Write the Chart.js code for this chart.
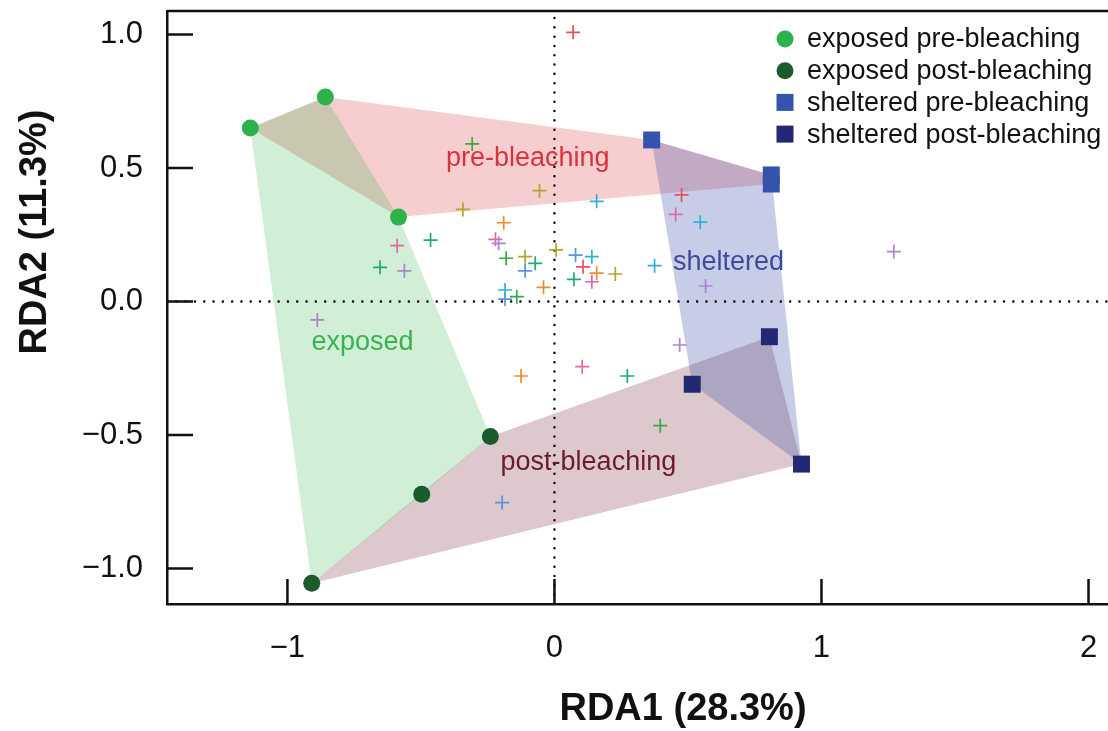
<!DOCTYPE html>
<html>
<head>
<meta charset="utf-8">
<title>RDA ordination</title>
<script src="https://cdn.jsdelivr.net/npm/chart.js@4.4.1/dist/chart.umd.min.js"></script>
<style>
    html, body { margin: 0; padding: 0; background: #fff; overflow: hidden; }
    #rdaChart { display: block; }
</style>
</head>
<body>
<canvas id="rdaChart" width="1108" height="731"></canvas>
<script>
// axis limits and tick labels
const xRange = [-1.451, 2.073];
const yRange = [-1.133, 1.088];
const xTickValues = [-1, 0, 1, 2];
const yTickValues = [-1, -0.5, 0, 0.5, 1];
const xTitle = 'RDA1 (28.3%)';
const yTitle = 'RDA2 (11.3%)';

// site scores per group
const groupNames = ['exposed pre-bleaching', 'exposed post-bleaching', 'sheltered pre-bleaching', 'sheltered post-bleaching'];
const exposedPre = [[-1.139, 0.650], [-0.858, 0.766], [-0.584, 0.316]];
const exposedPost = [[-0.240, -0.506], [-0.497, -0.722], [-0.909, -1.055]];
const shelteredPre = [[0.364, 0.605], [0.812, 0.474], [0.812, 0.440]];
const shelteredPost = [[0.805, -0.132], [0.516, -0.310], [0.925, -0.609]];

// hull labels, anchored in data units
const hullNames = ['pre-bleaching', 'post-bleaching', 'exposed', 'sheltered'];
const hullLabelAt = [[-0.100, 0.537], [0.127, -0.604], [-0.719, -0.155], [0.652, 0.144]];

// species scores, grouped by plotting colour
const sppRed = [[0.070, 1.008], [0.476, 0.399], [0.107, 0.130]];
const sppOrange = [[-0.190, 0.295], [-0.041, 0.053], [0.158, 0.106], [-0.125, -0.279]];
const sppOlive = [[-0.056, 0.415], [-0.343, 0.345], [-0.110, 0.168], [0.006, 0.193], [0.228, 0.103]];
const sppGreen = [[-0.308, 0.590], [-0.181, 0.162], [-0.141, 0.018], [0.396, -0.465]];
const sppTeal = [[-0.464, 0.230], [-0.653, 0.128], [-0.072, 0.143], [0.073, 0.083], [0.273, -0.279]];
const sppCyan = [[-0.185, 0.043], [0.158, 0.375], [0.546, 0.297], [0.140, 0.168], [0.375, 0.134]];
const sppBlue = [[-0.110, 0.115], [-0.185, 0.009], [0.079, 0.174], [-0.196, -0.753]];
const sppPurple = [[-0.209, 0.218], [-0.562, 0.115], [-0.888, -0.069], [0.566, 0.058], [1.271, 0.187], [0.469, -0.163]];
const sppPink = [[-0.221, 0.233], [-0.589, 0.209], [0.454, 0.326], [0.140, 0.074], [0.104, -0.244]];

const FONT = "'Liberation Sans', Arial, Helvetica, sans-serif";
const groupColors = ['#2cb24a', '#1b5a2a', '#3552ad', '#232873'];
const hullLabelColors = ['#d8333b', '#6c1a2d', '#3bb24f', '#3d4b9e'];

const toXY = (arr) => arr.map(([x, y]) => ({ x, y }));
const fmtMinus = (s) => String(s).replace('-', '\u2212');

// monotone chain convex hull, returns closed ring
function convexHull(points) {
    const pts = points.slice().sort((a, b) => a[0] - b[0] || a[1] - b[1]);
    const cross = (o, a, b) => (a[0] - o[0]) * (b[1] - o[1]) - (a[1] - o[1]) * (b[0] - o[0]);
    const lower = [];
    for (const p of pts) {
        while (lower.length >= 2 && cross(lower[lower.length - 2], lower[lower.length - 1], p) <= 0) lower.pop();
        lower.push(p);
    }
    const upper = [];
    for (let i = pts.length - 1; i >= 0; i--) {
        const p = pts[i];
        while (upper.length >= 2 && cross(upper[upper.length - 2], upper[upper.length - 1], p) <= 0) upper.pop();
        upper.push(p);
    }
    lower.pop();
    upper.pop();
    const ring = lower.concat(upper);
    ring.push(ring[0]);
    return ring;
}

function hullDataset(label, pts, color, order) {
    return {
        type: 'line',
        label,
        data: toXY(convexHull(pts)),
        fill: 'shape',
        backgroundColor: color,
        borderColor: 'transparent',
        borderWidth: 0,
        pointRadius: 0,
        tension: 0,
        order
    };
}

function speciesDataset(label, pts, color) {
    return {
        label,
        data: toXY(pts),
        pointStyle: 'cross',
        pointRadius: 7,
        pointBorderWidth: 1.7,
        pointBorderColor: color,
        pointBackgroundColor: color,
        order: 1
    };
}

function groupDataset(i, pts, style, radius) {
    return {
        label: groupNames[i],
        data: toXY(pts),
        pointStyle: style,
        pointRadius: radius,
        pointBorderWidth: 0,
        pointBackgroundColor: groupColors[i],
        pointBorderColor: groupColors[i],
        order: 0
    };
}

function dottedDataset(pts) {
    return {
        type: 'line',
        data: toXY(pts),
        borderColor: '#000',
        borderWidth: 2.4,
        borderDash: [0.1, 9.2],
        borderCapStyle: 'round',
        pointRadius: 0,
        fill: false,
        order: 2
    };
}

const datasets = [
    groupDataset(0, exposedPre, 'circle', 8.5),
    groupDataset(1, exposedPost, 'circle', 8.5),
    groupDataset(2, shelteredPre, 'rect', 12),
    groupDataset(3, shelteredPost, 'rect', 12),
    speciesDataset('red', sppRed, '#e5525b'),
    speciesDataset('orange', sppOrange, '#ee8a2c'),
    speciesDataset('olive', sppOlive, '#b3a42f'),
    speciesDataset('green', sppGreen, '#3aa845'),
    speciesDataset('teal', sppTeal, '#1fa87f'),
    speciesDataset('cyan', sppCyan, '#2cb2da'),
    speciesDataset('blue', sppBlue, '#5c92e2'),
    speciesDataset('purple', sppPurple, '#a986cc'),
    speciesDataset('pink', sppPink, '#e0689f'),
    dottedDataset([[xRange[0], 0], [xRange[1], 0]]),
    dottedDataset([[0, yRange[0]], [0, yRange[1]]]),
    hullDataset(hullNames[3], shelteredPre.concat(shelteredPost), 'rgba(59, 76, 168, 0.28)', 3),
    hullDataset(hullNames[2], exposedPre.concat(exposedPost), 'rgba(45, 179, 74, 0.22)', 4),
    hullDataset(hullNames[1], exposedPost.concat(shelteredPost), 'rgba(110, 25, 45, 0.24)', 5),
    hullDataset(hullNames[0], exposedPre.concat(shelteredPre), 'rgba(225, 60, 65, 0.25)', 6)
];

const rdaDecor = {
    id: 'rdaDecor',
    afterDatasetsDraw(chart) {
        const { ctx, scales: { x, y } } = chart;
        ctx.save();
        ctx.font = `27px ${FONT}`;
        ctx.textAlign = 'center';
        ctx.textBaseline = 'middle';
        hullNames.forEach((name, i) => {
            ctx.fillStyle = hullLabelColors[i];
            ctx.fillText(name, x.getPixelForValue(hullLabelAt[i][0]), y.getPixelForValue(hullLabelAt[i][1]));
        });
        ctx.restore();
    },
    afterDraw(chart) {
        const { ctx, chartArea: area, scales: { x, y } } = chart;
        ctx.save();

        // top frame line and inward tick marks
        ctx.strokeStyle = '#111';
        ctx.lineWidth = 2.5;
        ctx.beginPath();
        ctx.moveTo(area.left, area.top);
        ctx.lineTo(area.right, area.top);
        x.ticks.forEach((t) => {
            const px = x.getPixelForValue(t.value);
            ctx.moveTo(px, area.bottom);
            ctx.lineTo(px, area.bottom - 25);
        });
        y.ticks.forEach((t) => {
            const py = y.getPixelForValue(t.value);
            ctx.moveTo(area.left, py);
            ctx.lineTo(area.left + 26, py);
        });
        ctx.stroke();

        // axis titles
        ctx.fillStyle = '#111';
        ctx.font = `bold 38px ${FONT}`;
        ctx.textAlign = 'center';
        ctx.textBaseline = 'alphabetic';
        ctx.fillText(xTitle, 683, area.bottom + 116);
        ctx.save();
        ctx.translate(area.left - 121, area.top + 221);
        ctx.rotate(-Math.PI / 2);
        ctx.fillText(yTitle, 0, 0);
        ctx.restore();

        // legend, top right inside the frame
        ctx.font = `27px ${FONT}`;
        ctx.textAlign = 'left';
        ctx.textBaseline = 'middle';
        groupNames.forEach((name, i) => {
            const cy = area.top + 28 + i * 31.7;
            const cx = 785;
            ctx.fillStyle = groupColors[i];
            if (i < 2) {
                ctx.beginPath();
                ctx.arc(cx, cy, 8.5, 0, Math.PI * 2);
                ctx.fill();
            } else {
                ctx.fillRect(cx - 8.5, cy - 8.5, 17, 17);
            }
            ctx.fillStyle = '#111';
            ctx.fillText(name, 807, cy + 1);
        });

        ctx.restore();
    }
};

const tickFont = { family: FONT, size: 31 };

new Chart(document.getElementById('rdaChart'), {
    type: 'scatter',
    data: { datasets },
    options: {
        responsive: false,
        animation: false,
        events: [],
        layout: { autoPadding: false, padding: { top: 11, right: 0, bottom: 0, left: 0 } },
        plugins: {
            legend: { display: false },
            tooltip: { enabled: false }
        },
        scales: {
            x: {
                type: 'linear',
                min: xRange[0],
                max: xRange[1],
                afterBuildTicks: (scale) => { scale.ticks = xTickValues.map((v) => ({ value: v })); },
                afterFit: (scale) => {
                    scale.height = 127;
                    scale.paddingLeft = 0;
                    scale.paddingRight = 0;
                },
                grid: { display: true, drawOnChartArea: false, drawTicks: false },
                border: { display: true, color: '#111', width: 2.5 },
                ticks: {
                    padding: 26,
                    color: '#111',
                    maxRotation: 0,
                    autoSkip: false,
                    font: tickFont,
                    callback: (v) => fmtMinus(v)
                }
            },
            y: {
                type: 'linear',
                min: yRange[0],
                max: yRange[1],
                afterBuildTicks: (scale) => { scale.ticks = yTickValues.map((v) => ({ value: v })); },
                afterFit: (scale) => {
                    scale.width = 167;
                    scale.paddingTop = 0;
                    scale.paddingBottom = 0;
                },
                grid: { display: true, drawOnChartArea: false, drawTicks: false },
                border: { display: true, color: '#111', width: 2.5 },
                ticks: {
                    padding: 24,
                    color: '#111',
                    autoSkip: false,
                    font: tickFont,
                    callback: (v) => fmtMinus(Number(v).toFixed(1))
                }
            }
        }
    },
    plugins: [rdaDecor]
});
</script>
</body>
</html>
